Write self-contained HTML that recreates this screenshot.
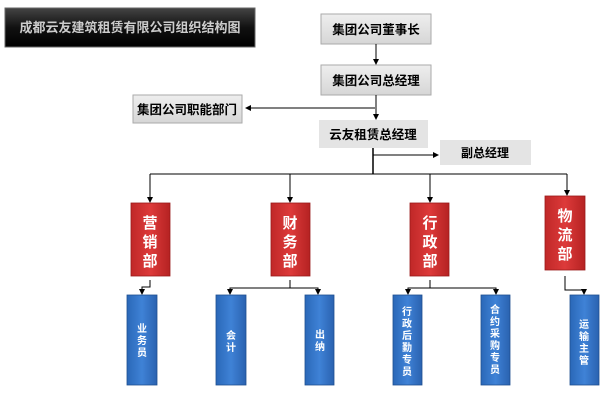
<!DOCTYPE html>
<html><head><meta charset="utf-8"><style>
html,body{margin:0;padding:0;background:#fff;}
svg{display:block;}
text{font-family:"Liberation Sans","Noto Sans CJK SC",sans-serif;font-weight:bold;}
</style></head><body>
<svg width="603" height="401" viewBox="0 0 603 401" xmlns="http://www.w3.org/2000/svg">
<defs>
<linearGradient id="blk" x1="0" y1="0" x2="0" y2="1"><stop offset="0" stop-color="#444"/><stop offset="0.5" stop-color="#111"/><stop offset="1" stop-color="#000"/></linearGradient>
<linearGradient id="gry" x1="0" y1="0" x2="0" y2="1"><stop offset="0" stop-color="#eee"/><stop offset="1" stop-color="#d6d6d6"/></linearGradient>
<linearGradient id="red" x1="0" y1="0" x2="1" y2="0"><stop offset="0" stop-color="#c02828"/><stop offset="0.5" stop-color="#dd3a3a"/><stop offset="1" stop-color="#b52222"/></linearGradient>
<linearGradient id="blu" x1="0" y1="0" x2="1" y2="0"><stop offset="0" stop-color="#2a68b8"/><stop offset="0.5" stop-color="#3f82d6"/><stop offset="1" stop-color="#2a62b0"/></linearGradient>
<marker id="ar" markerWidth="6" markerHeight="6" refX="5" refY="3" orient="auto" markerUnits="userSpaceOnUse"><path d="M0,0 L6,3 L0,6 z" fill="#000"/></marker>
</defs>
<!-- title -->
<rect x="5" y="8" width="250" height="39" fill="url(#blk)" stroke="#666" stroke-width="1"/>
<text x="130" y="32" fill="#ccc" font-size="13" text-anchor="middle">成都云友建筑租赁有限公司组织结构图</text>
<!-- top boxes -->
<rect x="321" y="14" width="110" height="30" fill="url(#gry)" stroke="#aaa"/>
<text x="376" y="34" font-size="12.5" text-anchor="middle">集团公司董事长</text>
<rect x="321" y="65" width="110" height="30" fill="url(#gry)" stroke="#aaa"/>
<text x="376" y="85" font-size="12.5" text-anchor="middle">集团公司总经理</text>
<rect x="133" y="95" width="109" height="28" fill="url(#gry)" stroke="#aaa"/>
<text x="187" y="114" font-size="12.5" text-anchor="middle">集团公司职能部门</text>
<rect x="319" y="120" width="109" height="28" fill="#e4e4e4"/>
<text x="373" y="139" font-size="12.5" text-anchor="middle">云友租赁总经理</text>
<rect x="440" y="140" width="91" height="25" fill="#e4e4e4"/>
<text x="485" y="157" font-size="12" text-anchor="middle">副总经理</text>
<g stroke="#000" stroke-width="1" fill="none">
<line x1="376" y1="44" x2="376" y2="64" marker-end="url(#ar)"/>
<line x1="376" y1="95" x2="376" y2="119" marker-end="url(#ar)"/>
<line x1="375" y1="108" x2="246" y2="108" marker-end="url(#ar)"/>
<line x1="373" y1="148" x2="373" y2="174" stroke-width="1.5"/>
<line x1="373" y1="155" x2="438" y2="155" marker-end="url(#ar)"/>
<line x1="150" y1="174" x2="567" y2="174"/>
<line x1="150" y1="174" x2="150" y2="202" marker-end="url(#ar)"/>
<line x1="290" y1="174" x2="290" y2="202" marker-end="url(#ar)"/>
<line x1="430" y1="174" x2="430" y2="202" marker-end="url(#ar)"/>
<line x1="567" y1="174" x2="567" y2="195" marker-end="url(#ar)"/>
<polyline points="150,280 150,287 142,287 142,294" marker-end="url(#ar)"/>
<polyline points="290,280 290,288"/>
<polyline points="230,294 230,288 318,288 318,294" />
<line x1="230" y1="289" x2="230" y2="294" marker-end="url(#ar)"/>
<line x1="318" y1="289" x2="318" y2="294" marker-end="url(#ar)"/>
<polyline points="430,280 430,288"/>
<polyline points="408,294 408,288 496,288 496,294"/>
<line x1="408" y1="289" x2="408" y2="294" marker-end="url(#ar)"/>
<line x1="496" y1="289" x2="496" y2="294" marker-end="url(#ar)"/>
<polyline points="565,276 565,290 584,290 584,294" marker-end="url(#ar)"/>
</g>
<!-- red boxes -->
<g fill="url(#red)" stroke="#9a1a1a" stroke-width="0.8">
<rect x="131" y="203" width="39" height="73"/>
<rect x="271" y="203" width="39" height="73"/>
<rect x="410" y="203" width="39" height="73"/>
<rect x="545" y="196" width="40" height="74"/>
</g>
<g fill="#fff" font-size="15" text-anchor="middle">
<text x="150" y="228">营</text><text x="150" y="247">销</text><text x="150" y="266">部</text>
<text x="290" y="228">财</text><text x="290" y="247">务</text><text x="290" y="266">部</text>
<text x="430" y="228">行</text><text x="430" y="247">政</text><text x="430" y="266">部</text>
<text x="565" y="221">物</text><text x="565" y="240">流</text><text x="565" y="259">部</text>
</g>
<!-- blue boxes -->
<g fill="url(#blu)" stroke="#1f4f90" stroke-width="0.8">
<rect x="127" y="295" width="30" height="90"/>
<rect x="216" y="295" width="30" height="90"/>
<rect x="305" y="295" width="29" height="90"/>
<rect x="393" y="295" width="29" height="90"/>
<rect x="481" y="295" width="29" height="90"/>
<rect x="570" y="295" width="29" height="90"/>
</g>
<g fill="#fff" font-size="10" text-anchor="middle">
<text x="142" y="332">业</text><text x="142" y="344">务</text><text x="142" y="356">员</text>
<text x="231" y="339">会</text><text x="231" y="351">计</text>
<text x="320" y="338">出</text><text x="320" y="350">纳</text>
<text x="407" y="315">行</text><text x="407" y="327">政</text><text x="407" y="339">后</text><text x="407" y="351">勤</text><text x="407" y="363">专</text><text x="407" y="375">员</text>
<text x="495" y="313">合</text><text x="495" y="325">约</text><text x="495" y="337">采</text><text x="495" y="349">购</text><text x="495" y="361">专</text><text x="495" y="373">员</text>
<text x="584" y="328">运</text><text x="584" y="340">输</text><text x="584" y="352">主</text><text x="584" y="364">管</text>
</g>
</svg>
</body></html>
